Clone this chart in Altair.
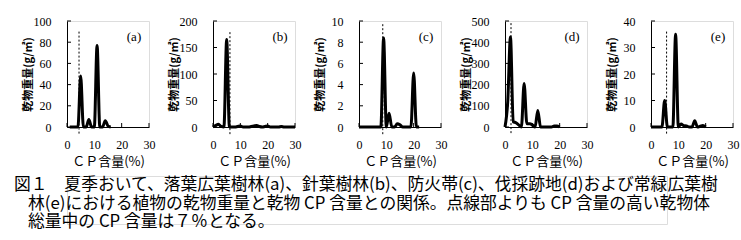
import altair as alt
import pandas as pd

# ---- data ----
cp_a = [1, 2, 3, 4, 5, 6, 7, 8, 9, 10, 11, 12, 13, 14, 15, 16]
dm_a = [0, 0, 0, 0, 48, 0, 0, 7, 0, 0, 77, 0, 0, 6, 1, 0]

cp_b = list(range(0, 31))
dm_b = [0, 3, 5, 1, 0, 165, 0, 0, 0, 1, 2, 0, 0, 0, 1, 2, 3, 1, 0, 1, 2, 0, 0, 0, 0, 1, 0, 0, 0, 0, 0]

cp_c = list(range(0, 23))
dm_c = [0, 0, 0, 0, 0, 0, 0, 0, 0, 8.4, 0, 1.3, 0, 0, 0.3, 0.2, 0, 0, 0, 0, 5.1, 0, 0]

cp_d = list(range(0, 21))
dm_d = [0, 120, 425, 25, 20, 10, 0, 205, 15, 15, 10, 0, 78, 0, 0, 0, 0, 0, 5, 5, 0]

cp_e = list(range(0, 21))
dm_e = [0, 0, 0, 0, 0, 10, 0, 0, 0, 35, 0, 1.1, 0.5, 0.4, 0, 0, 2.4, 0, 0.3, 0.6, 0]

labels = ["(a)", "(b)", "(c)", "(d)", "(e)"]
y_max = [100, 200, 10, 500, 40]
y_step = [20, 50, 2, 100, 10]
cut_cp = [4.4, 6.2, 8.7, 2.2, 5.7]          # dotted line position (CP %)
cut_top = [90, 179, 9.7, 490, 36]           # dotted line top (y units)
x_ticks = [0, 10, 20, 30]

caption = [
    "図１　夏季おいて、落葉広葉樹林(a)、針葉樹林(b)、防火帯(c)、伐採跡地(d)および常緑広葉樹",
    "林(e)における植物の乾物重量と乾物 CP 含量との関係。点線部よりも CP 含量の高い乾物体",
    "総量中の CP 含量は７％となる。",
]

W, H = 82, 106
SERIF = "Liberation Serif"
JP = "Noto Sans CJK JP"


def panel(label, cp, dm, ymax, step, cut, top):
    xs = alt.Scale(domain=[0, 30], nice=False)
    ys = alt.Scale(domain=[0, ymax], nice=False)
    yt = list(range(0, ymax + 1, step))
    df = pd.DataFrame({"cp": cp, "dm": dm})
    line = alt.Chart(df).mark_line(
        color="black", strokeWidth=3, interpolate="monotone"
    ).encode(
        x=alt.X("cp:Q", scale=xs, axis=alt.Axis(
            values=x_ticks, title="ＣＰ含量(%)", labelOverlap=False, labelFlush=False,
            tickCount=4)),
        y=alt.Y("dm:Q", scale=ys, axis=alt.Axis(
            values=yt, title="乾物重量(g/㎡)", labelOverlap=False, labelFlush=False,
            tickCount=len(yt))),
    )
    rule = alt.Chart(pd.DataFrame({"cp": [cut], "dm": [top]})).mark_rule(
        color="black", strokeWidth=1, strokeDash=[2, 2]
    ).encode(
        x=alt.X("cp:Q", scale=xs, axis=None),
        y=alt.Y("dm:Q", scale=ys, axis=None),
        y2=alt.value(H + 8),
    )
    ytk = alt.Chart(pd.DataFrame({"dm": yt})).mark_rule(color="black").encode(
        y=alt.Y("dm:Q", scale=ys, axis=None), x=alt.value(0), x2=alt.value(4)
    )
    xtk = alt.Chart(pd.DataFrame({"cp": x_ticks})).mark_rule(color="black").encode(
        x=alt.X("cp:Q", scale=xs, axis=None), y=alt.value(H), y2=alt.value(H - 4)
    )
    txt = alt.Chart(pd.DataFrame({"t": [label]})).mark_text(
        font=SERIF, fontSize=13, color="black", align="center", baseline="middle"
    ).encode(text="t:N", x=alt.value(67), y=alt.value(16))
    return (
        alt.layer(line, rule, ytk, xtk, txt)
        .resolve_axis(x="independent", y="independent")
        .properties(width=W, height=H)
    )


panels = [
    panel(labels[i], cp, dm, y_max[i], y_step[i], cut_cp[i], cut_top[i])
    for i, (cp, dm) in enumerate([(cp_a, dm_a), (cp_b, dm_b), (cp_c, dm_c), (cp_d, dm_d), (cp_e, dm_e)])
]

top_row = alt.hconcat(*panels, spacing=11)

cap_layers = []
for i, line_text in enumerate(caption):
    cap_layers.append(
        alt.Chart(pd.DataFrame({"t": [line_text]})).mark_text(
            font=JP, fontSize=16.8, color="black", align="left", baseline="middle"
        ).encode(text="t:N", x=alt.value(-53 if i == 0 else -39), y=alt.value(9 + 18.5 * i))
    )
cap_chart = alt.layer(*cap_layers).properties(width=600, height=48)

chart = alt.vconcat(top_row, cap_chart, spacing=6).properties(
    padding={"left": 13, "top": 14, "right": 0, "bottom": 0},
).configure_view(strokeWidth=0).configure(background="white").configure_axis(
    grid=False, ticks=False, tickSize=0, labelOverlap=False, labelFlush=False,
    labelBound=False, labelFont=SERIF, labelFontSize=12, labelColor="black",
    domainColor="black", domainWidth=1, titleColor="black", titleFont=JP,
).configure_axisX(
    labelPadding=12, titleFontSize=13, titleFontWeight="normal", titleY=34,
    titleBaseline="middle",
).configure_axisY(
    labelPadding=16, titleFontSize=11, titleFontWeight="bold", titleX=-39,
    titleBaseline="middle",
)

chart.save("out.html", embed_options={"renderer": "svg", "actions": False})
